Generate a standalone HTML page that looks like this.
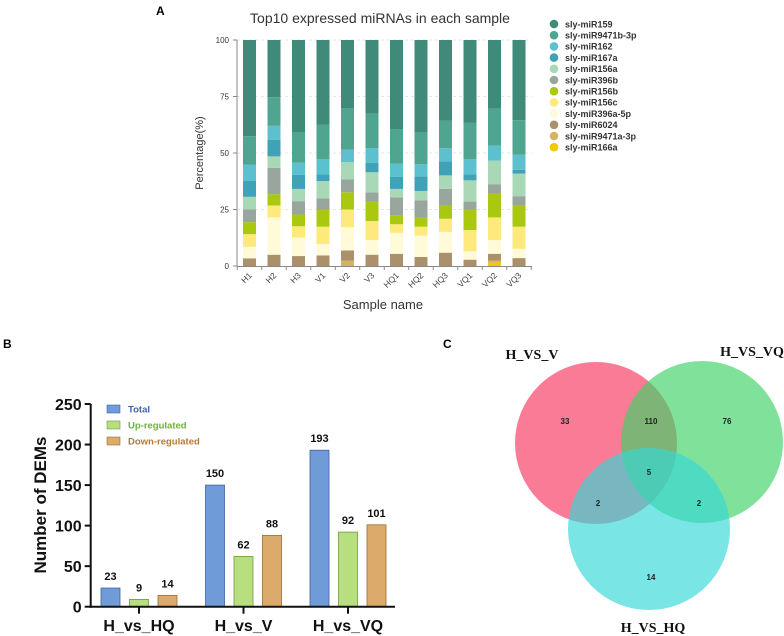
<!DOCTYPE html>
<html><head><meta charset="utf-8"><style>
html,body{margin:0;padding:0;background:#fff;}
svg{display:block;font-family:"Liberation Sans",Arial,sans-serif;}
</style></head><body>
<svg id="fig" width="784" height="636" viewBox="0 0 784 636">
<text x="156" y="15" font-size="12" font-weight="bold">A</text>
<text x="3" y="348" font-size="12" font-weight="bold">B</text>
<text x="443" y="348" font-size="12" font-weight="bold">C</text>
<g id="pa"></g>
<g id="pb"></g>
<g id="pc"></g>
</svg>
<script>
// ---- Panel A data ----
const samples = ["H1","H2","H3","V1","V2","V3","HQ1","HQ2","HQ3","VQ1","VQ2","VQ3"];
const mirnas = ["sly-miR159","sly-miR9471b-3p","sly-miR162","sly-miR167a","sly-miR156a","sly-miR396b","sly-miR156b","sly-miR156c","sly-miR396a-5p","sly-miR6024","sly-miR9471a-3p","sly-miR166a"];
const mirColors = ["#3f8a78","#50a590","#5cc0cf","#3fa2b7","#a8d8b6","#98a69d","#a9c80f","#fde97c","#fffad8","#ab906c","#d5b45f","#f6c800"];
// values per miRNA (same order as mirnas), per sample
const v159   = [42.6,25.3,40.7,37.4,30.1,32.6,39.4,40.7,35.6,36.5,34.4,34.4];
const v9471b = [12.5,12.7,13.6,15.4,18.4,15.2,15.3,14.3,12.3,16.3,16.3,15.3];
const v162   = [7.3,6.1,5.3,6.6,5.5,6.6,5.9,5.3,5.8,6.6,6.7,6.6];
const v167a  = [7.0,7.4,6.3,3.0,0,4.1,5.3,6.5,6.2,2.7,0,1.7];
const v156a  = [5.6,5.1,5.4,7.7,7.6,8.9,3.8,4.1,6.0,9.4,10.4,10.0];
const v396b  = [5.6,11.6,5.9,4.9,5.8,4.2,7.9,7.8,7.3,3.5,4.1,4.1];
const v156b  = [5.3,5.0,5.2,7.6,7.6,8.5,3.9,3.9,5.9,9.1,10.6,9.4];
const v156c  = [5.6,5.3,5.0,7.7,7.8,8.4,3.8,3.9,5.8,9.4,10.0,9.8];
const v396a  = [5.1,16.5,8.2,5.0,10.3,6.5,9.3,9.5,9.2,3.7,6.1,4.1];
const v6024  = [3.4,5.0,4.4,4.7,4.5,5.0,5.4,4.0,5.9,2.8,3.0,3.5];
const v9471a = [0,0,0,0,2.4,0,0,0,0,0,0.9,0];
const v166a  = [0,0,0,0,0,0,0,0,0,0,1.5,0];
const yTicksA = [0,25,50,75,100];

// ---- Panel B data ----
const groupsB = ["H_vs_HQ","H_vs_V","H_vs_VQ"];
const totalB = [23,150,193];
const upB = [9,62,92];
const downB = [14,88,101];
const seriesB = ["Total","Up-regulated","Down-regulated"];
const yTicksB = [0,50,100,150,200,250];

// ---- Panel C data ----
const vennSets = ["H_VS_V","H_VS_VQ","H_VS_HQ"];
const vennCounts = [33,110,76,5,2,2,14];

const NS="http://www.w3.org/2000/svg";
function mk(parent,tag,attrs,txt){const e=document.createElementNS(NS,tag);for(const k in attrs)e.setAttribute(k,attrs[k]);if(txt!==undefined)e.textContent=txt;parent.appendChild(e);return e;}

// ===== Panel A =====
(function(){
const g=document.getElementById('pa');
const y0=266,y1=40,xL=237,xR=532;
const ya=v=>y0-(v-0)/100*(y0-y1);
const step=24.5,x0=249.5,bw=13;
const xa=i=>x0+i*step;
const t=mk(g,'text',{x:380,y:23,'font-size':14,'text-anchor':'middle',fill:'#333'},'Top10 expressed miRNAs in each sample');

yTicksA.forEach(v=>{
 if(v>0){const gl=mk(g,'line',{x1:xL,x2:xR,y1:ya(v),y2:ya(v),stroke:'#e6e6e6','stroke-dasharray':'3,3'});}
 const tk=mk(g,'line',{x1:xL-4,x2:xL,y1:ya(v),y2:ya(v),stroke:'#888'});
 const lb=mk(g,'text',{x:xL-8,y:ya(v)+3,'font-size':8,'text-anchor':'end',fill:'#333'},v);
});
const ax=mk(g,'line',{x1:xL,x2:xL,y1:y1,y2:y0,stroke:'#888'});
const vals=[v159,v9471b,v162,v167a,v156a,v396b,v156b,v156c,v396a,v6024,v9471a,v166a];
samples.forEach((s,i)=>{
 let cum=0;
 for(let k=vals.length-1;k>=0;k--){
  const v=vals[k][i];
  if(v>0){
   const top=(k===0)?100:cum+v;
   const r=mk(g,'rect',{x:xa(i)-bw/2,y:ya(top),width:bw,height:ya(cum)-ya(top),fill:mirColors[k]});
   
  }
  cum+=v;
 }
 const lb=mk(g,'text',{x:xa(i)+3,y:276,'font-size':8.5,'text-anchor':'end',fill:'#444',transform:`rotate(-45 ${xa(i)+3} 276)`},s);
 
});
const xax=mk(g,'line',{x1:xL,x2:xR,y1:y0+0.5,y2:y0+0.5,stroke:'#888'});
for(let i=0;i<=samples.length;i++){const xx=xa(i)-step/2;const tk=mk(g,'line',{x1:xx,x2:xx,y1:y0,y2:y0+4,stroke:'#888'});}
const xt=mk(g,'text',{x:383,y:309,'font-size':13,'text-anchor':'middle',fill:'#333'},'Sample name');
const yt=mk(g,'text',{x:203,y:153,'font-size':11,'text-anchor':'middle',fill:'#333',transform:'rotate(-90 203 153)'},'Percentage(%)');
mirnas.forEach((m,k)=>{
 const yy=24+k*11.2;
 const c=mk(g,'circle',{cx:554,cy:yy,r:4.3,fill:mirColors[k]});
 const tx=mk(g,'text',{x:565,y:yy+3.3,'font-size':9,'font-weight':'bold',fill:'#333'},m);
});
})();

// ===== Panel B =====
(function(){
const g=document.getElementById('pb');
const y0=606.7,yTop=404,xL=90.7,xR=395;
const ya=v=>y0-v/250*(y0-yTop);
const gx=i=>139+i*104.5;
const bw=19,off=28.5;
const cols=["#6f9bd9","#b7df80","#dcaa6b"],strokes=["#3f63a0","#6f9a3c","#9c6c34"];
const data=[totalB,upB,downB];
yTicksB.forEach(v=>{
 const tk=mk(g,'line',{x1:xL-6,x2:xL,y1:ya(v),y2:ya(v),stroke:'#111','stroke-width':2});
 const lb=mk(g,'text',{x:xL-9,y:ya(v)+6,'font-size':16,'font-weight':'bold','text-anchor':'end',fill:'#111'},v);
});
groupsB.forEach((gn,i)=>{
 data.forEach((arr,s)=>{
  const cx=gx(i)+(s-1)*off;
  const r=mk(g,'rect',{x:cx-bw/2,y:ya(arr[i]),width:bw,height:y0-ya(arr[i]),fill:cols[s],stroke:strokes[s],'stroke-width':0.8});
  
  const vl=mk(g,'text',{x:cx,y:ya(arr[i])-8,'font-size':11,'font-weight':'bold','text-anchor':'middle',fill:'#111'},arr[i]);
  
 });
 const tk=mk(g,'line',{x1:gx(i),x2:gx(i),y1:y0,y2:y0+7,stroke:'#111','stroke-width':2});
 const lb=mk(g,'text',{x:gx(i),y:631,'font-size':16,'font-weight':'bold','text-anchor':'middle',fill:'#111'},gn);
});
const ay=mk(g,'line',{x1:xL,x2:xL,y1:yTop,y2:y0+1,stroke:'#111','stroke-width':2});
const axx=mk(g,'line',{x1:xL-1,x2:xR,y1:y0,y2:y0,stroke:'#111','stroke-width':2});
const yt=mk(g,'text',{x:46,y:505,'font-size':17,'font-weight':'bold','text-anchor':'middle',fill:'#111',transform:'rotate(-90 46 505)'},'Number of DEMs');
const legCols=["#3f63a8","#6fb03a","#b27a35"];
seriesB.forEach((s,k)=>{
 const yy=409+k*16;
 const r=mk(g,'rect',{x:107,y:yy-4,width:13,height:8,fill:cols[k],stroke:strokes[k],'stroke-width':0.6});
 const t=mk(g,'text',{x:128,y:yy+3.5,'font-size':9.5,'font-weight':'bold',fill:legCols[k]},s);
});
})();

// ===== Panel C =====
(function(){
const g=document.getElementById('pc');
const circ=[[596,443,"rgba(247,60,100,0.68)"],[702,442,"rgba(60,210,100,0.65)"],[649,529,"rgba(50,215,215,0.65)"]];
circ.forEach((c,k)=>{const e=mk(g,'circle',{cx:c[0],cy:c[1],r:81,fill:c[2]});});
const lp=[[532,359],[752,356],[653,632]];
vennSets.forEach((s,k)=>{const t=mk(g,'text',{x:lp[k][0],y:lp[k][1],'font-size':14,'font-weight':'bold','text-anchor':'middle','font-family':'"Liberation Serif",serif',fill:'#111'},s);});
const np=[[565,424],[651,424],[727,424],[649,475],[598,506],[699,506],[651,580]];
vennCounts.forEach((n,k)=>{const t=mk(g,'text',{x:np[k][0],y:np[k][1],'font-size':8,'font-weight':'bold','text-anchor':'middle',fill:'#222'},n);});
})();
</script>
</body></html>
